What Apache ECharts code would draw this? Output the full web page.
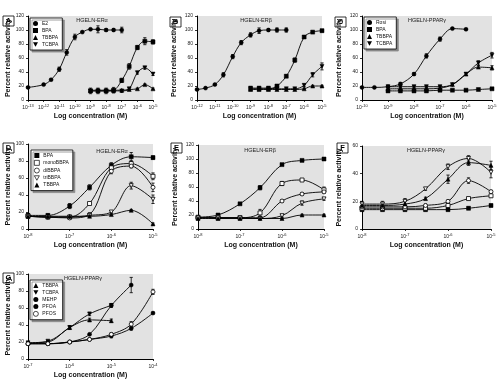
<!DOCTYPE html>
<html><head><meta charset="utf-8">
<script src="https://cdn.jsdelivr.net/npm/echarts@6.0.0/dist/echarts.min.js"></script>
<style>html,body{margin:0;padding:0;background:#fff}#c{width:500px;height:385px}</style>
</head><body><div id="c"></div>
<script>
// ---------- data (concentrations in M, activity in %, error = SD) ----------
const concA_E2 = [1e-13, 1e-12, 3e-12, 1e-11, 3e-11, 1e-10, 3e-10, 1e-9, 3e-9, 1e-8, 3e-8, 1e-7];
const A_E2 = [18, 22, 29, 44, 68, 90, 97, 101, 101, 100, 100, 100];
const A_E2_err = [1, 1, 1, 3, 4, 4, 1, 1, 5, 2, 2, 4];
const concA = [1e-9, 3e-9, 1e-8, 3e-8, 1e-7, 3e-7, 1e-6, 3e-6, 1e-5];
const A_BPA = [13, 13, 13, 14, 28, 48, 75, 84, 83];
const A_BPA_err = [4, 4, 4, 4, 3, 4, 3, 5, 3];
const A_TBBPA = [14, 14, 14, 14, 14, 15, 16, 22, 16];
const A_TBBPA_err = [1, 1, 1, 1, 1, 1, 1, 1, 1];
const A_TCBPA = [13, 13, 13, 13, 13, 16, 39, 46, 37];
const A_TCBPA_err = [2, 2, 2, 2, 2, 2, 2, 2, 2];

const concB_E2 = [1e-12, 3e-12, 1e-11, 3e-11, 1e-10, 3e-10, 1e-9, 3e-9, 1e-8, 3e-8, 1e-7];
const B_E2 = [15, 17, 22, 36, 62, 82, 93, 99, 100, 100, 100];
const B_E2_err = [1, 1, 1, 3, 3, 3, 3, 4, 2, 3, 3];
const concB = [1e-9, 3e-9, 1e-8, 3e-8, 1e-7, 3e-7, 1e-6, 3e-6, 1e-5];
const B_BPA = [16, 16, 16, 20, 34, 57, 90, 97, 99];
const B_BPA_err = [2, 2, 2, 2, 2, 3, 2, 1, 2];
const B_TBBPA = [15, 15, 15, 15, 15, 15, 16, 20, 20];
const B_TBBPA_err = [1, 1, 1, 1, 1, 1, 1, 1, 1];
const B_TCBPA = [17, 17, 17, 16, 16, 16, 21, 36, 48];
const B_TCBPA_err = [1, 1, 1, 1, 1, 1, 2, 3, 5];

const concC_Rosi = [1e-10, 3e-10, 1e-9, 3e-9, 1e-8, 3e-8, 1e-7, 3e-7, 1e-6];
const C_Rosi = [18, 18, 19, 23, 37, 63, 87, 102, 101];
const C_Rosi_err = [0, 0, 1, 2, 2, 3, 3, 1, 1];
const concC = [1e-9, 3e-9, 1e-8, 3e-8, 1e-7, 3e-7, 1e-6, 3e-6, 1e-5];
const C_BPA = [13, 13, 13, 13, 14, 14, 14, 15, 16];
const C_BPA_err = [2, 2, 2, 2, 2, 1, 1, 1, 1];
const C_TBBPA = [16, 16, 16, 16, 17, 22, 37, 47, 46];
const C_TBBPA_err = [2, 2, 2, 2, 2, 1, 2, 2, 3];
const C_TCBPA = [19, 19, 19, 19, 19, 22, 37, 53, 64];
const C_TCBPA_err = [2, 2, 2, 2, 2, 1, 2, 3, 4];

const concD = [1e-8, 3e-8, 1e-7, 3e-7, 1e-6, 3e-6, 1e-5];
const D_BPA = [16, 16, 27, 49, 75, 85, 84];
const D_BPA_err = [2, 2, 3, 3, 3, 5, 2];
const D_mono = [15, 14, 14, 30, 72, 77, 62];
const D_mono_err = [1, 1, 1, 1, 3, 3, 4];
const D_di = [15, 14, 13, 17, 68, 74, 49];
const D_di_err = [1, 1, 1, 2, 3, 2, 5];
const D_tri = [15, 14, 14, 16, 20, 51, 35];
const D_tri_err = [1, 1, 1, 1, 1, 4, 5];
const D_TBBPA = [15, 15, 15, 15, 17, 22, 6];
const D_TBBPA_err = [1, 1, 1, 1, 1, 1, 1];

const concE = [1e-8, 3e-8, 1e-7, 3e-7, 1e-6, 3e-6, 1e-5];
const E_BPA = [17, 20, 36, 59, 92, 98, 100];
const E_BPA_err = [1, 1, 1, 3, 1, 1, 2];
const E_mono = [16, 16, 16, 23, 65, 70, 56];
const E_mono_err = [1, 1, 1, 5, 3, 1, 4];
const E_di = [16, 16, 16, 16, 40, 50, 53];
const E_di_err = [1, 1, 1, 1, 2, 2, 2];
const E_tri = [16, 16, 16, 15, 19, 37, 43];
const E_tri_err = [1, 1, 1, 1, 2, 3, 2];
const E_TBBPA = [15, 15, 15, 15, 15, 20, 20];
const E_TBBPA_err = [1, 1, 1, 1, 1, 1, 1];

const concF = [1e-8, 3e-8, 1e-7, 3e-7, 1e-6, 3e-6, 1e-5];
const F_BPA = [14, 14, 14, 14, 14, 15, 17];
const F_BPA_err = [1, 1, 1, 1, 1, 1, 1];
const F_mono = [15, 15, 15, 15, 17, 22, 24];
const F_mono_err = [1, 1, 1, 1, 1, 1, 1];
const F_di = [16, 16, 16, 17, 20, 35, 27];
const F_di_err = [1, 1, 1, 1, 1, 2, 1];
const F_tri = [18, 18, 20, 29, 45, 51, 41];
const F_tri_err = [2, 2, 2, 1, 2, 2, 4];
const F_TBBPA = [17, 17, 18, 22, 36, 48, 46];
const F_TBBPA_err = [2, 2, 2, 1, 3, 2, 3];

const concG_TB = [1e-7, 3e-7, 1e-6, 3e-6, 1e-5];
const G_TBBPA = [19, 20, 37, 46, 45];
const G_TBBPA_err = [1, 2, 2, 2, 2];
const G_TCBPA = [19, 21, 37, 53, 63];
const G_TCBPA_err = [1, 1, 2, 2, 2];
const concG_MEHP = [1e-7, 3e-7, 1e-6, 3e-6, 1e-5, 3e-5];
const G_MEHP = [18, 18, 20, 29, 63, 87];
const G_MEHP_err = [1, 2, 1, 1, 2, 9];
const concG_PF = [1e-7, 3e-7, 1e-6, 3e-6, 1e-5, 3e-5, 1e-4];
const G_PFOA = [18, 18, 20, 23, 27, 36, 54];
const G_PFOA_err = [1, 1, 1, 1, 2, 2, 1];
const G_PFOS = [18, 18, 20, 23, 29, 41, 79];
const G_PFOS_err = [1, 1, 1, 1, 2, 3, 3];

// ---------- styling helpers ----------
const FONT = '"Liberation Sans Narrow","Liberation Sans",Arial,sans-serif';
const DOWN = 'path://M0,0L10,0L5,9Z';
const SYM = {
  fcircle: {symbol: 'circle', open: false},
  fsquare: {symbol: 'rect', open: false},
  ftri: {symbol: 'triangle', open: false},
  fdown: {symbol: DOWN, open: false},
  osquare: {symbol: 'rect', open: true},
  ocircle: {symbol: 'circle', open: true},
  odown: {symbol: DOWN, open: true}
};

function S(name, xs, ys, err, sym) { return {name, xs, ys, err, sym}; }

const panels = [
  {L: 'A', rect: [28, 16, 125, 84], xr: [1e-13, 1e-5], ymax: 120, title: 'HGELN-ERα', tx: 92, ty: 20, yGap: 16,
   letter: [3, 16],
   series: [S('E2', concA_E2, A_E2, A_E2_err, 'fcircle'), S('BPA', concA, A_BPA, A_BPA_err, 'fsquare'), S('TBBPA', concA, A_TBBPA, A_TBBPA_err, 'ftri'), S('TCBPA', concA, A_TCBPA, A_TCBPA_err, 'fdown')],
   legend: {left: 30, top: 18}},
  {L: 'B', rect: [197, 16, 125, 84], xr: [1e-12, 1e-5], ymax: 120, title: 'HGELN-ERβ', tx: 256, ty: 20, yGap: 19,
   letter: [170, 17],
   series: [S('E2', concB_E2, B_E2, B_E2_err, 'fcircle'), S('BPA', concB, B_BPA, B_BPA_err, 'fsquare'), S('TBBPA', concB, B_TBBPA, B_TBBPA_err, 'ftri'), S('TCBPA', concB, B_TCBPA, B_TCBPA_err, 'fdown')]},
  {L: 'C', rect: [362, 16, 130, 84], xr: [1e-10, 1e-5], ymax: 120, title: 'HGELN-PPARγ', tx: 427, ty: 20, yGap: 19,
   letter: [335, 17],
   series: [S('Rosi', concC_Rosi, C_Rosi, C_Rosi_err, 'fcircle'), S('BPA', concC, C_BPA, C_BPA_err, 'fsquare'), S('TBBPA', concC, C_TBBPA, C_TBBPA_err, 'ftri'), S('TCBPA', concC, C_TCBPA, C_TCBPA_err, 'fdown')],
   legend: {left: 364, top: 17}},
  {L: 'D', rect: [28, 144, 125, 85], xr: [1e-8, 1e-5], ymax: 100, title: 'HGELN-ERα', tx: 112, ty: 151, yGap: 16,
   letter: [3, 143],
   series: [S('BPA', concD, D_BPA, D_BPA_err, 'fsquare'), S('monoBBPA', concD, D_mono, D_mono_err, 'osquare'), S('diBBPA', concD, D_di, D_di_err, 'ocircle'), S('triBBPA', concD, D_tri, D_tri_err, 'odown'), S('TBBPA', concD, D_TBBPA, D_TBBPA_err, 'ftri')],
   legend: {left: 31, top: 150}},
  {L: 'E', rect: [198, 145, 126, 84], xr: [1e-8, 1e-5], ymax: 120, title: 'HGELN-ERβ', tx: 260, ty: 150, yGap: 19,
   letter: [171, 143],
   series: [S('BPA', concE, E_BPA, E_BPA_err, 'fsquare'), S('monoBBPA', concE, E_mono, E_mono_err, 'osquare'), S('diBBPA', concE, E_di, E_di_err, 'ocircle'), S('triBBPA', concE, E_tri, E_tri_err, 'odown'), S('TBBPA', concE, E_TBBPA, E_TBBPA_err, 'ftri')]},
  {L: 'F', rect: [362, 146, 129, 83], xr: [1e-8, 1e-5], ymax: 60, title: 'HGELN-PPARγ', tx: 426, ty: 150, yGap: 19,
   letter: [337, 143],
   series: [S('BPA', concF, F_BPA, F_BPA_err, 'fsquare'), S('monoBBPA', concF, F_mono, F_mono_err, 'osquare'), S('diBBPA', concF, F_di, F_di_err, 'ocircle'), S('triBBPA', concF, F_tri, F_tri_err, 'odown'), S('TBBPA', concF, F_TBBPA, F_TBBPA_err, 'ftri')]},
  {L: 'G', rect: [28, 274, 125, 85], xr: [1e-7, 1e-4], ymax: 100, title: 'HGELN-PPARγ', tx: 83, ty: 278, yGap: 16,
   letter: [3, 273],
   series: [S('TBBPA', concG_TB, G_TBBPA, G_TBBPA_err, 'ftri'), S('TCBPA', concG_TB, G_TCBPA, G_TCBPA_err, 'fdown'), S('MEHP', concG_MEHP, G_MEHP, G_MEHP_err, 'fcircle'), S('PFOA', concG_PF, G_PFOA, G_PFOA_err, 'fcircle'), S('PFOS', concG_PF, G_PFOS, G_PFOS_err, 'ocircle')],
   legend: {left: 30, top: 280}}
];

function errRender(params, api) {
  const x = api.value(0), y = api.value(1), e = api.value(2);
  if (!e) return null;
  const top = api.coord([x, y + e]), bot = api.coord([x, y - e]);
  const w = 1.6;
  const st = {stroke: '#000', lineWidth: 0.8};
  return {type: 'group', children: [
    {type: 'line', shape: {x1: top[0], y1: top[1], x2: bot[0], y2: bot[1]}, style: st},
    {type: 'line', shape: {x1: top[0] - w, y1: top[1], x2: top[0] + w, y2: top[1]}, style: st},
    {type: 'line', shape: {x1: bot[0] - w, y1: bot[1], x2: bot[0] + w, y2: bot[1]}, style: st}
  ]};
}

const grid = [], xAxis = [], yAxis = [], series = [], legend = [], graphic = [];
panels.forEach((p, i) => {
  grid.push({left: p.rect[0], top: p.rect[1], width: p.rect[2], height: p.rect[3], show: true,
    backgroundColor: '#e2e2e2', borderWidth: 0, containLabel: false, outerBoundsMode: 'none'});
  xAxis.push({type: 'log', logBase: 10, gridIndex: i, min: p.xr[0], max: p.xr[1], interval: 1,
    axisLine: {lineStyle: {color: '#000', width: 1}},
    axisTick: {length: 2, lineStyle: {color: '#000', width: 0.8}},
    splitLine: {show: false}, minorTick: {show: false},
    axisLabel: {margin: 4, color: '#222', fontFamily: FONT, fontSize: 5,
      formatter: v => '10{s|' + Math.round(Math.log10(v)) + '}',
      rich: {s: {fontSize: 4, fontFamily: FONT, color: '#222', padding: [0, 0, 4, 0]}}},
    name: 'Log concentration (M)', nameLocation: 'middle', nameGap: 13,
    nameTextStyle: {fontFamily: FONT, fontWeight: 'bold', fontSize: 7, color: '#111'}});
  yAxis.push({type: 'value', gridIndex: i, min: 0, max: p.ymax, interval: 20,
    axisLine: {show: true, lineStyle: {color: '#000', width: 1}},
    axisTick: {show: true, length: 2, lineStyle: {color: '#000', width: 0.8}},
    splitLine: {show: false},
    axisLabel: {margin: 4, color: '#222', fontFamily: FONT, fontSize: 5},
    name: 'Percent relative activity', nameLocation: 'middle', nameGap: p.yGap, nameRotate: 90,
    nameTextStyle: {fontFamily: FONT, fontWeight: 'bold', fontSize: 7, color: '#111'}});
  p.series.forEach(s => {
    const st = SYM[s.sym];
    series.push({type: 'custom', name: s.name + ' error', xAxisIndex: i, yAxisIndex: i,
      data: s.xs.map((x, k) => [x, s.ys[k], s.err[k]]), renderItem: errRender,
      silent: true, animation: false, z: 2});
    series.push({type: 'line', name: s.name, xAxisIndex: i, yAxisIndex: i,
      data: s.xs.map((x, k) => [x, s.ys[k]]),
      smooth: 0.35, symbol: st.symbol, symbolSize: 4, showSymbol: true,
      lineStyle: {color: '#000', width: 0.9},
      itemStyle: st.open ? {color: '#fff', borderColor: '#000', borderWidth: 0.8} : {color: '#000', borderColor: '#000', borderWidth: 0.5},
      emphasis: {disabled: true}, animation: false, z: 3});
  });
  if (p.legend) {
    legend.push({orient: 'vertical', left: p.legend.left, top: p.legend.top,
      itemWidth: 5, itemHeight: 5, itemGap: 2, padding: [3, 4, 3, 3],
      backgroundColor: '#fff', borderColor: '#000', borderWidth: 0.8,
      shadowColor: '#888', shadowOffsetX: 2, shadowOffsetY: 2, shadowBlur: 0,
      textStyle: {fontFamily: FONT, fontSize: 5, color: '#111', padding: [0, 0, 0, -1]},
      selectedMode: false,
      data: p.series.map(s => {
        const st = SYM[s.sym];
        return {name: s.name, icon: st.symbol,
          itemStyle: st.open ? {color: '#fff', borderColor: '#000', borderWidth: 0.7} : {color: '#000', borderWidth: 0}};
      })});
  }
  graphic.push({type: 'text', x: p.tx, y: p.ty, style: {text: p.title, fontFamily: FONT, fontSize: 5.5, fill: '#222', textAlign: 'center', textVerticalAlign: 'middle'}});
  graphic.push({type: 'rect', shape: {x: p.letter[0], y: p.letter[1], width: 11, height: 10}, style: {fill: '#fff', stroke: '#000', lineWidth: 0.8}});
  graphic.push({type: 'text', x: p.letter[0] + 5.5, y: p.letter[1] + 5.3, style: {text: p.L, fontFamily: FONT, fontWeight: 'bold', fontSize: 7.5, fill: '#000', textAlign: 'center', textVerticalAlign: 'middle'}});
});

const chart = echarts.init(document.getElementById('c'), null, {renderer: 'canvas'});
chart.setOption({animation: false, grid, xAxis, yAxis, series, legend, graphic});
</script></body></html>
